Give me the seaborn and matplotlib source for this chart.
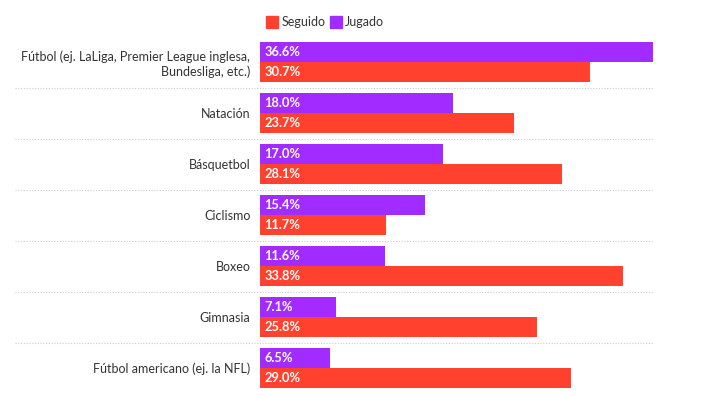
import pandas as pd
import matplotlib.pyplot as plt
import seaborn as sns
from matplotlib.patches import Patch

# data
deportes = ['Fútbol (ej. LaLiga, Premier League inglesa,\nBundesliga, etc.)',
            'Natación', 'Básquetbol', 'Ciclismo', 'Boxeo', 'Gimnasia',
            'Fútbol americano (ej. la NFL)']
jugado = [36.6, 18.0, 17.0, 15.4, 11.6, 7.1, 6.5]
seguido = [30.7, 23.7, 28.1, 11.7, 33.8, 25.8, 29.0]

df = pd.DataFrame({
    'deporte': deportes * 2,
    'valor': jugado + seguido,
    'tipo': ['Jugado'] * len(deportes) + ['Seguido'] * len(deportes),
})

colores = {'Seguido': '#FF412E', 'Jugado': '#A22BFF'}

sns.set_style('white')
plt.rcParams['font.family'] = ['Lato', 'DejaVu Sans']

fig = plt.figure(figsize=(7.28, 3.95), dpi=100)
ax = fig.add_axes([260 / 728, 1 - 393.5 / 395, 393 / 728, 357 / 395])

sns.barplot(data=df, y='deporte', x='valor', hue='tipo',
            hue_order=['Jugado', 'Seguido'], palette=colores, saturation=1,
            orient='h', width=0.784, gap=0, dodge=True, legend=False,
            linewidth=0, ax=ax)

ax.set_xlim(0, max(jugado + seguido))
ax.set_ylim(len(deportes) - 0.5, -0.5)

# value labels inside bars
for cont in ax.containers:
    for p in cont.patches:
        ax.text(0.4, p.get_y() + p.get_height() / 2, f'{p.get_width():.1f}%',
                color='white', fontsize=9.3, fontweight='bold',
                va='center', ha='left')

# dotted separators
xmax = ax.get_xlim()[1]
for i in range(len(deportes) - 1):
    ax.plot([-245 / 393 * xmax, xmax], [i + 0.5, i + 0.5],
            color='#cccccc', lw=0.8, ls=(0, (1, 1.5)), clip_on=False)

ax.set_xlabel('')
ax.set_ylabel('')
ax.set_xticks([])
ax.tick_params(axis='y', length=0, pad=7, labelsize=9, labelcolor='#333333')
for lab in ax.get_yticklabels():
    lab.set_multialignment('right')
sns.despine(ax=ax, left=True, bottom=True)

handles = [Patch(color=colores['Seguido'], label='Seguido'),
           Patch(color=colores['Jugado'], label='Jugado')]
fig.legend(handles=handles, loc='upper left', bbox_to_anchor=(255 / 728, 1 - 5 / 395),
           ncol=2, frameon=False, handlelength=0.9, handleheight=1.1,
           handletextpad=0.3, columnspacing=0.4, fontsize=9,
           labelcolor='#333333')

fig.savefig('out.png', dpi=100)
